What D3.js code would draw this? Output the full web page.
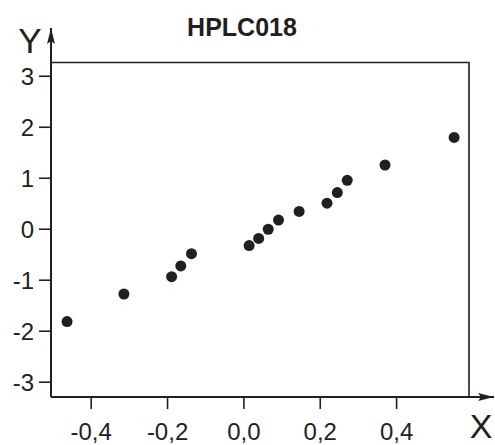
<!DOCTYPE html>
<html>
<head>
<meta charset="utf-8">
<script src="https://cdn.jsdelivr.net/npm/d3@7"></script>
<style>
  html, body { margin: 0; padding: 0; background: #fff; }
  svg text { font-family: "Liberation Sans", Arial, sans-serif; fill: #231f20; }
</style>
</head>
<body>
<svg id="chart" width="495" height="445"></svg>
<script>
// Scatter data: X and Y coordinates of each sample
const xValues = [-0.462, -0.313, -0.188, -0.164, -0.136, 0.015, 0.040, 0.065, 0.092, 0.146, 0.219, 0.246, 0.272, 0.371, 0.552];
const yValues = [-1.82, -1.28, -0.94, -0.73, -0.49, -0.33, -0.19, -0.01, 0.17, 0.34, 0.50, 0.71, 0.95, 1.25, 1.79];
const xTicks = [-0.4, -0.2, 0.0, 0.2, 0.4];
const yTicks = [-3, -2, -1, 0, 1, 2, 3];
const title = "HPLC018";

const ink = "#231f20";
const svg = d3.select("#chart");
const plotL = 51, plotR = 469, plotT = 62.5, plotB = 397;

const x = d3.scaleLinear().domain([-0.504, 0.591]).range([plotL, plotR]);
const y = d3.scaleLinear().domain([-3.3, 3.26]).range([plotB, plotT]);

const locale = d3.formatLocale({ decimal: ",", thousands: ".", grouping: [3], currency: ["", ""], minus: "-" });
const fx = locale.format(".1f");
const fy = locale.format("d");

// Frame: top and right borders
svg.append("path")
  .attr("d", `M${plotL},${plotT}H${plotR}V${plotB}`)
  .attr("fill", "none").attr("stroke", ink).attr("stroke-width", 1.6);

// Axes with outward ticks
const xAxis = svg.append("g")
  .attr("transform", `translate(0,${plotB})`)
  .call(d3.axisBottom(x).tickValues(xTicks).tickFormat(fx).tickSize(12).tickPadding(14));
const yAxis = svg.append("g")
  .attr("transform", `translate(${plotL},0)`)
  .call(d3.axisLeft(y).tickValues(yTicks).tickFormat(fy).tickSize(12).tickPadding(5));

[xAxis, yAxis].forEach(g => {
  g.select(".domain").remove();
  g.selectAll(".tick line").attr("stroke", ink).attr("stroke-width", 1.6);
  g.selectAll(".tick text").attr("fill", ink).style("font-size", "24px")
    .style("font-family", "'Liberation Sans', Arial, sans-serif");
});
yAxis.selectAll(".tick text").attr("dy", "0.36em");

// Main axis lines with arrowheads
const defs = svg.append("defs");
defs.append("marker")
  .attr("id", "arrow").attr("viewBox", "0 0 16 8")
  .attr("refX", 16).attr("refY", 4)
  .attr("markerWidth", 16).attr("markerHeight", 8)
  .attr("markerUnits", "userSpaceOnUse").attr("orient", "auto")
  .append("path").attr("d", "M0,0L16,4L0,8L3,4Z").attr("fill", ink);

svg.append("line")
  .attr("x1", plotL).attr("y1", plotB).attr("x2", 494).attr("y2", plotB)
  .attr("stroke", ink).attr("stroke-width", 2).attr("marker-end", "url(#arrow)");
svg.append("line")
  .attr("x1", plotL).attr("y1", plotB).attr("x2", plotL).attr("y2", 28)
  .attr("stroke", ink).attr("stroke-width", 2).attr("marker-end", "url(#arrow)");

// Data points
svg.append("g").selectAll("circle")
  .data(xValues.map((v, i) => [v, yValues[i]]))
  .join("circle")
  .attr("cx", d => x(d[0])).attr("cy", d => y(d[1]))
  .attr("r", 5.5).attr("fill", ink);

// Title and axis letters
svg.append("text").attr("x", 242).attr("y", 36).attr("text-anchor", "middle")
  .style("font-size", "25px").style("font-weight", "bold").text(title);
svg.append("text").attr("x", 30).attr("y", 53).attr("text-anchor", "middle")
  .style("font-size", "35px").text("Y");
svg.append("text").attr("x", 481).attr("y", 438).attr("text-anchor", "middle")
  .style("font-size", "34px").text("X");
</script>
</body>
</html>
